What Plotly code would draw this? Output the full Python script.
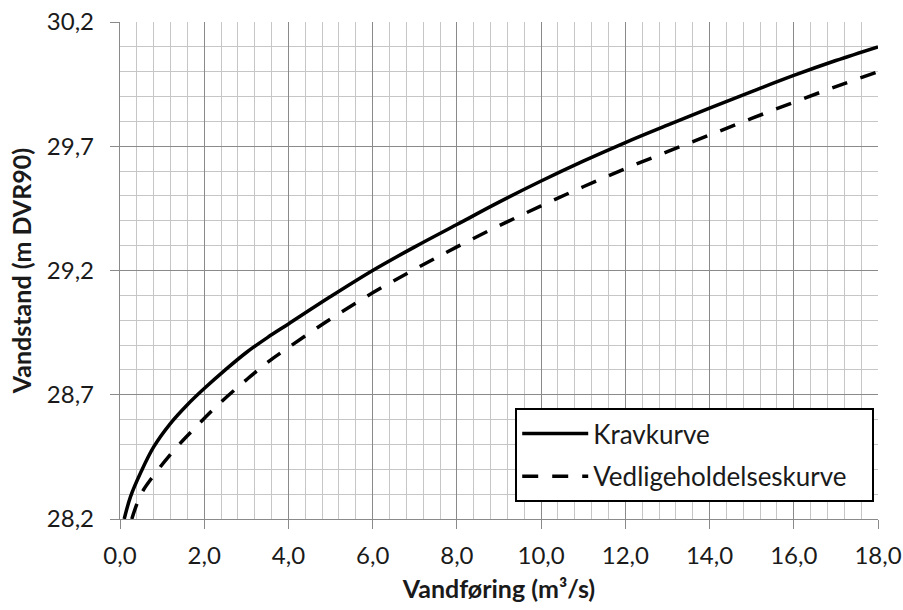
import plotly.graph_objects as go

# Vandføring (m³/s) and vandstand (m DVR90) for the two curves
krav_q = [0.1, 0.25, 0.5, 0.8, 1.2, 1.6, 2.0, 2.5, 3.0, 3.5, 4.0, 5.0, 6.0,
          7.0, 8.0, 9.0, 10.0, 11.0, 12.0, 13.0, 14.0, 15.0, 16.0, 17.0, 18.0]
krav_h = [28.20, 28.29, 28.39, 28.49, 28.585, 28.66, 28.725, 28.80, 28.87,
          28.93, 28.985, 29.095, 29.20, 29.295, 29.385, 29.475, 29.56, 29.64,
          29.715, 29.785, 29.853, 29.92, 29.985, 30.045, 30.10]

vedl_q = [0.28, 0.5, 0.8, 1.3, 1.8, 2.3, 3.0, 3.5, 4.0, 5.0, 6.0, 7.0, 8.0,
          9.0, 10.0, 11.0, 12.0, 13.0, 14.0, 15.0, 16.0, 17.0, 18.0]
vedl_h = [28.20, 28.30, 28.375, 28.48, 28.57, 28.655, 28.76, 28.83, 28.89,
          29.005, 29.11, 29.205, 29.295, 29.38, 29.46, 29.537, 29.61, 29.678,
          29.745, 29.812, 29.877, 29.94, 30.00]

names = ["Kravkurve", "Vedligeholdelseskurve"]

FONT = "Lato"
TXT = "#1a1a1a"
MAJOR = "#8a8a8a"
MINOR = "#c6c6c6"
PAD = "\u00a0\u00a0\u00a0"  # extra room on the right side of the legend box

fig = go.Figure()
fig.add_trace(go.Scatter(x=krav_q, y=krav_h, mode="lines", name=names[0] + PAD,
                         legendgroup="a",
                         line=dict(color="black", width=3.5, shape="spline",
                                   smoothing=1.0)))
fig.add_trace(go.Scatter(x=vedl_q, y=vedl_h, mode="lines", name=names[1] + PAD,
                         legendgroup="b",
                         line=dict(color="black", width=3.5, shape="spline",
                                   smoothing=1.0, dash="16px,14px")))

fig.update_layout(
    width=903, height=610,
    margin=dict(l=120, r=25, t=22, b=91),
    paper_bgcolor="white", plot_bgcolor="white",
    separators=",.",
    font=dict(family=FONT, size=24, color=TXT),
    showlegend=True,
    legend=dict(
        x=0.995, y=0.034, xanchor="right", yanchor="bottom",
        bgcolor="white", bordercolor="black", borderwidth=2,
        font=dict(family=FONT, size=26, color=TXT),
        itemwidth=66, tracegroupgap=6,
    ),
)

fig.update_xaxes(
    range=[0, 18], tick0=0, dtick=2, tickformat=".1f", automargin=False,
    showgrid=True, gridcolor=MAJOR, gridwidth=1.3,
    minor=dict(dtick=0.4, tick0=0, showgrid=True, gridcolor=MINOR,
               gridwidth=1.3),
    showline=True, linecolor=MAJOR, linewidth=1.3,
    ticks="outside", ticklen=9, tickcolor=MAJOR, tickwidth=1.3,
    ticklabelstandoff=6,
    zeroline=False,
    title=dict(text="<b>Vandføring (m³/s)</b>", standoff=12,
               font=dict(family=FONT, size=25, color=TXT)),
)
fig.update_yaxes(
    range=[28.2, 30.2], tick0=28.2, dtick=0.5, tickformat=".1f",
    automargin=False,
    showgrid=True, gridcolor=MAJOR, gridwidth=1.3,
    minor=dict(dtick=0.1, tick0=28.2, showgrid=True, gridcolor=MINOR,
               gridwidth=1.3),
    showline=True, linecolor=MAJOR, linewidth=1.3,
    ticks="outside", ticklen=9, tickcolor=MAJOR, tickwidth=1.3,
    ticklabelstandoff=11,
    zeroline=False,
    title=dict(text="<b>Vandstand (m DVR90)</b>", standoff=8,
               font=dict(family=FONT, size=25, color=TXT)),
)

fig.write_html("out.html")
